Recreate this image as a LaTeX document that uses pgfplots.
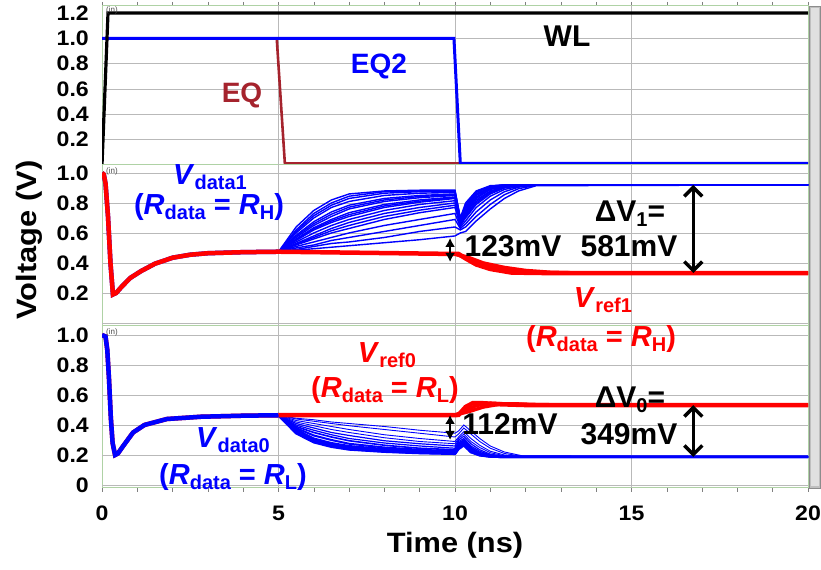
\documentclass[border=0pt]{standalone}
\usepackage{pgfplots}
\pgfplotsset{compat=1.18}
\usepackage{fontspec}
\setmainfont{Liberation Sans}
\newfontfamily\wide{Liberation Sans}[FakeStretch=1.1]
\usetikzlibrary{arrows.meta}
\definecolor{cblue}{RGB}{0,0,255}
\definecolor{cred}{RGB}{255,0,0}
\definecolor{ceq}{RGB}{165,35,45}
\definecolor{cframe}{RGB}{175,210,165}
\definecolor{cgrid}{RGB}{185,185,185}
\newcommand{\fs}[1]{\fontsize{#1bp}{#1bp}\selectfont}
\newcommand{\sub}[1]{\raisebox{-5bp}{\fs{20}#1}}
\tikzset{gsty/.style={draw=cgrid, line width=0.8bp}}
\newcommand{\vgrid}{\pgfplotsinvokeforeach{5,10,15}{\draw[gsty] (axis cs:##1,-0.1) -- (axis cs:##1,1.3);}}
\pgfplotsset{
 panel/.style={scale only axis, width=706bp, xmin=0, xmax=20, anchor=north west,
   axis line style={draw=cframe, line width=1bp},
   xtick={0,5,10,15,20}, minor xtick={1,2,3,4,6,7,8,9,11,12,13,14,16,17,18,19},
   tick align=outside, major tick length=4bp, minor tick length=4bp,
   xtick style={draw=gray, line width=0.6bp},
   ytick pos=right, yticklabel pos=left,
   yticklabel style={font=\wide\bfseries\fs{21}, inner sep=0pt, anchor=east, xshift=-9bp},
   xticklabel style={font=\wide\bfseries\fs{21}, inner sep=0pt, anchor=north, yshift=-14bp},
 },
 bund/.style={cblue, line width=1.4bp, no marks},
}
\begin{document}
\begin{tikzpicture}[x=1bp,y=1bp]
\useasboundingbox (0,0) rectangle (821,570);
% ---------- top panel ----------
\begin{axis}[panel, at={(102bp,564bp)}, height=159bp, ymin=0, ymax=1.256,
  ytick={0.2,0.4,0.6,0.8,1.0,1.2}, yticklabels={0.2,0.4,0.6,0.8,1.0,1.2},
  xtick pos=upper, xticklabels={}]
\pgfplotsinvokeforeach{0.2,0.4,0.6,0.8,1.0}{\draw[gsty] (axis cs:0,#1) -- (axis cs:20,#1);}
\vgrid
\addplot[ceq, line width=2.6bp, no marks] coordinates {(0,1.0)(4.95,1.0)(5.18,0.012)(10.15,0.012)(20,0.012)};
\addplot[cblue, line width=3bp, no marks] coordinates {(0,1.0)(9.97,1.0)(10.15,0.012)(20,0.012)};
\addplot[black, line width=3.2bp, no marks] coordinates {(0,0)(0.17,1.2)(20,1.2)};
\end{axis}
% ---------- middle panel ----------
\begin{axis}[panel, at={(102bp,405bp)}, height=161bp, ymin=-0.02, ymax=1.053,
  ytick={0.2,0.4,0.6,0.8,1.0}, yticklabels={0.2,0.4,0.6,0.8,1.0},
  xticklabels={}, xtick style={draw=none}]
\pgfplotsinvokeforeach{0,0.2,0.4,0.6,0.8,1.0}{\draw[gsty] (axis cs:0,#1) -- (axis cs:20,#1);}
\vgrid
\addplot[cblue, line width=4.5bp, no marks] coordinates {(0,1.0)(0.05,0.99)(0.1,0.93)(0.17,0.71)(0.24,0.4)(0.31,0.19)(0.4,0.2)(0.55,0.24)(0.8,0.3)(1.1,0.345)(1.5,0.395)(2.0,0.435)(2.5,0.455)(3.0,0.465)(4.0,0.472)(5.0,0.475)};
\addplot[bund] coordinates {(5,0.475)(5.5,0.64)(6,0.75)(6.5,0.82)(7,0.86)(8,0.88)(9,0.885)(10,0.885)(10.15,0.70)(10.3,0.80)(10.6,0.88)(11,0.915)(11.4,0.92)(11.8,0.92)(12.3,0.92)(20,0.92)};
\addplot[bund] coordinates {(5,0.475)(5.5,0.62)(6,0.73)(6.5,0.80)(7,0.845)(8,0.875)(9,0.88)(10,0.88)(10.15,0.695)(10.3,0.79)(10.6,0.875)(11,0.912)(11.4,0.92)(11.8,0.92)(12.3,0.92)(20,0.92)};
\addplot[bund] coordinates {(5,0.475)(5.5,0.61)(6,0.715)(6.5,0.785)(7,0.83)(8,0.865)(9,0.875)(10,0.875)(10.15,0.693)(10.3,0.785)(10.6,0.872)(11,0.911)(11.4,0.92)(11.8,0.92)(12.3,0.92)(20,0.92)};
\addplot[bund] coordinates {(5,0.475)(5.5,0.60)(6,0.70)(6.5,0.77)(7,0.81)(8,0.85)(9,0.865)(10,0.87)(10.15,0.69)(10.3,0.78)(10.6,0.87)(11,0.91)(11.4,0.92)(11.8,0.92)(12.3,0.92)(20,0.92)};
\addplot[bund] coordinates {(5,0.475)(5.5,0.585)(6,0.675)(6.5,0.74)(7,0.785)(8,0.83)(9,0.85)(10,0.86)(10.15,0.685)(10.3,0.77)(10.6,0.86)(11,0.905)(11.4,0.918)(11.8,0.92)(12.3,0.92)(20,0.92)};
\addplot[bund] coordinates {(5,0.475)(5.5,0.578)(6,0.662)(6.5,0.725)(7,0.772)(8,0.82)(9,0.843)(10,0.855)(10.15,0.683)(10.3,0.765)(10.6,0.855)(11,0.902)(11.4,0.916)(11.8,0.92)(12.3,0.92)(20,0.92)};
\addplot[bund] coordinates {(5,0.475)(5.5,0.57)(6,0.65)(6.5,0.71)(7,0.76)(8,0.81)(9,0.835)(10,0.85)(10.15,0.68)(10.3,0.76)(10.6,0.85)(11,0.90)(11.4,0.915)(11.8,0.92)(12.3,0.92)(20,0.92)};
\addplot[bund] coordinates {(5,0.475)(5.5,0.56)(6,0.635)(6.5,0.69)(7,0.735)(8,0.79)(9,0.82)(10,0.84)(10.15,0.675)(10.3,0.75)(10.6,0.84)(11,0.895)(11.4,0.913)(11.8,0.92)(12.3,0.92)(20,0.92)};
\addplot[bund] coordinates {(5,0.475)(5.5,0.555)(6,0.628)(6.5,0.68)(7,0.722)(8,0.78)(9,0.812)(10,0.835)(10.15,0.672)(10.3,0.745)(10.6,0.835)(11,0.892)(11.4,0.911)(11.8,0.92)(12.3,0.92)(20,0.92)};
\addplot[bund] coordinates {(5,0.475)(5.5,0.55)(6,0.62)(6.5,0.67)(7,0.71)(8,0.77)(9,0.805)(10,0.83)(10.15,0.67)(10.3,0.74)(10.6,0.83)(11,0.89)(11.4,0.91)(11.8,0.92)(12.3,0.92)(20,0.92)};
\addplot[bund] coordinates {(5,0.475)(5.5,0.54)(6,0.60)(6.5,0.65)(7,0.69)(8,0.75)(9,0.79)(10,0.815)(10.15,0.665)(10.3,0.73)(10.6,0.82)(11,0.88)(11.4,0.908)(11.8,0.918)(12.3,0.92)(20,0.92)};
\addplot[bund] coordinates {(5,0.475)(5.5,0.53)(6,0.58)(6.5,0.63)(7,0.67)(8,0.73)(9,0.77)(10,0.80)(10.15,0.66)(10.3,0.72)(10.6,0.81)(11,0.875)(11.4,0.905)(11.8,0.917)(12.3,0.92)(20,0.92)};
\addplot[bund] coordinates {(5,0.475)(5.5,0.525)(6,0.57)(6.5,0.615)(7,0.65)(8,0.71)(9,0.752)(10,0.785)(10.15,0.655)(10.3,0.71)(10.6,0.80)(11,0.868)(11.4,0.902)(11.8,0.916)(12.3,0.92)(20,0.92)};
\addplot[bund] coordinates {(5,0.475)(5.5,0.52)(6,0.56)(6.5,0.60)(7,0.63)(8,0.69)(9,0.735)(10,0.77)(10.15,0.65)(10.3,0.70)(10.6,0.79)(11,0.86)(11.4,0.90)(11.8,0.915)(12.3,0.92)(20,0.92)};
\addplot[bund] coordinates {(5,0.475)(5.5,0.51)(6,0.54)(6.5,0.57)(7,0.60)(8,0.65)(9,0.69)(10,0.73)(10.15,0.64)(10.3,0.68)(10.6,0.77)(11,0.845)(11.4,0.89)(11.8,0.91)(12.3,0.92)(20,0.92)};
\addplot[bund] coordinates {(5,0.475)(5.5,0.50)(6,0.52)(6.5,0.55)(7,0.57)(8,0.61)(9,0.65)(10,0.69)(10.15,0.63)(10.3,0.66)(10.6,0.74)(11,0.82)(11.4,0.875)(11.8,0.905)(12.3,0.92)(20,0.92)};
\addplot[bund] coordinates {(5,0.475)(5.5,0.49)(6,0.51)(6.5,0.53)(7,0.54)(8,0.57)(9,0.61)(10,0.64)(10.15,0.62)(10.3,0.64)(10.6,0.71)(11,0.79)(11.4,0.855)(11.8,0.895)(12.3,0.918)(20,0.92)};
\addplot[bund] coordinates {(5,0.475)(5.5,0.485)(6,0.495)(6.5,0.505)(7,0.515)(8,0.535)(9,0.555)(10,0.58)(10.15,0.60)(10.3,0.61)(10.6,0.68)(11,0.76)(11.4,0.83)(11.8,0.88)(12.3,0.915)(20,0.92)};
\addplot[cred, line width=3.5bp, no marks] coordinates {(10,0.46)(10.35,0.44)(10.8,0.40)(11.4,0.37)(12,0.35)(12.7,0.338)(13.5,0.333)(20,0.333)};
\addplot[cred, line width=3.5bp, no marks] coordinates {(10,0.46)(10.3,0.435)(10.7,0.395)(11.2,0.365)(11.8,0.343)(12.6,0.335)(20,0.333)};
\addplot[cred, line width=4.5bp, no marks] coordinates {(0,1.0)(0.05,0.99)(0.1,0.93)(0.17,0.71)(0.24,0.4)(0.31,0.19)(0.4,0.2)(0.55,0.24)(0.8,0.3)(1.1,0.345)(1.5,0.395)(2.0,0.435)(2.5,0.455)(3.0,0.465)(4.0,0.472)(5.0,0.475)(6,0.472)(7,0.469)(8,0.466)(9,0.463)(10,0.46)(10.1,0.46)(10.3,0.43)(10.6,0.39)(11,0.36)(11.6,0.336)(12.5,0.333)(20,0.333)};
\draw[line width=2bp, {Latex[length=9bp,width=10bp]}-{Latex[length=9bp,width=10bp]}] (axis cs:9.86,0.567) -- (axis cs:9.86,0.407);
\draw[line width=3.5bp, {Straight Barb[length=9bp,width=18bp]}-{Straight Barb[length=9bp,width=18bp]}] (axis cs:16.75,0.92) -- (axis cs:16.75,0.333);
\end{axis}
% ---------- bottom panel ----------
\begin{axis}[panel, at={(102bp,244bp)}, height=162bp, ymin=-0.02, ymax=1.06,
  ytick={0,0.2,0.4,0.6,0.8,1.0}, yticklabels={0,0.2,0.4,0.6,0.8,1.0},
  xtick pos=lower, xticklabels={0,5,10,15,20}]
\pgfplotsinvokeforeach{0,0.2,0.4,0.6,0.8,1.0}{\draw[gsty] (axis cs:0,#1) -- (axis cs:20,#1);}
\vgrid
\addplot[cred, line width=4.5bp, no marks] coordinates {(0,1.0)(0.1,0.99)(0.15,0.9)(0.2,0.7)(0.25,0.45)(0.3,0.28)(0.37,0.2)(0.45,0.21)(0.6,0.26)(0.88,0.35)(1.2,0.4)(1.84,0.44)(2.8,0.455)(4,0.462)(5,0.465)};
\addplot[cblue, line width=4.5bp, no marks] coordinates {(0,1.0)(0.1,0.99)(0.15,0.9)(0.2,0.7)(0.25,0.45)(0.3,0.28)(0.37,0.2)(0.45,0.21)(0.6,0.26)(0.88,0.35)(1.2,0.4)(1.84,0.44)(2.8,0.455)(4,0.462)(5,0.465)};
\addplot[bund, line width=2.5bp] coordinates {(5,0.465)(5.5,0.345)(6,0.285)(6.5,0.255)(7,0.237)(8,0.222)(9,0.213)(10,0.208)(10.1,0.24)(10.25,0.265)(10.45,0.22)(10.7,0.198)(11,0.19)(11.4,0.187)(11.9,0.187)(20,0.187)};
\addplot[bund, line width=2.5bp] coordinates {(5,0.465)(5.5,0.35)(6,0.29)(6.5,0.26)(7,0.24)(8,0.225)(9,0.215)(10,0.21)(10.1,0.25)(10.25,0.27)(10.45,0.22)(10.7,0.2)(11,0.19)(11.4,0.187)(11.9,0.187)(20,0.187)};
\addplot[bund, line width=2.5bp] coordinates {(5,0.465)(5.5,0.36)(6,0.30)(6.5,0.27)(7,0.25)(8,0.232)(9,0.22)(10,0.212)(10.1,0.255)(10.25,0.275)(10.45,0.225)(10.7,0.202)(11,0.191)(11.4,0.187)(11.9,0.187)(20,0.187)};
\addplot[bund, line width=2bp] coordinates {(5,0.465)(5.5,0.37)(6,0.31)(6.5,0.28)(7,0.26)(8,0.24)(9,0.225)(10,0.215)(10.1,0.26)(10.25,0.28)(10.45,0.23)(10.7,0.205)(11,0.192)(11.4,0.188)(11.9,0.187)(20,0.187)};
\addplot[bund, line width=2bp] coordinates {(5,0.465)(5.5,0.38)(6,0.33)(6.5,0.30)(7,0.275)(8,0.25)(9,0.235)(10,0.225)(10.1,0.27)(10.25,0.29)(10.45,0.24)(10.7,0.21)(11,0.195)(11.4,0.188)(11.9,0.187)(20,0.187)};
\addplot[bund, line width=1.6bp] coordinates {(5,0.465)(5.5,0.39)(6,0.35)(6.5,0.32)(7,0.295)(8,0.265)(9,0.245)(10,0.235)(10.1,0.28)(10.25,0.30)(10.45,0.25)(10.7,0.215)(11,0.198)(11.4,0.19)(11.9,0.187)(20,0.187)};
\addplot[bund, line width=1.2bp] coordinates {(5,0.465)(5.5,0.40)(6,0.365)(6.5,0.335)(7,0.31)(8,0.28)(9,0.26)(10,0.245)(10.1,0.29)(10.25,0.31)(10.45,0.26)(10.7,0.225)(11,0.20)(11.4,0.19)(11.9,0.187)(20,0.187)};
\addplot[bund, line width=1.2bp] coordinates {(5,0.465)(5.5,0.41)(6,0.38)(6.5,0.35)(7,0.33)(8,0.295)(9,0.275)(10,0.26)(10.1,0.30)(10.25,0.325)(10.45,0.275)(10.7,0.235)(11,0.205)(11.4,0.192)(11.9,0.188)(20,0.187)};
\addplot[bund, line width=0.9bp] coordinates {(5,0.465)(5.5,0.42)(6,0.395)(6.5,0.37)(7,0.35)(8,0.315)(9,0.29)(10,0.275)(10.1,0.31)(10.25,0.34)(10.45,0.29)(10.7,0.25)(11,0.215)(11.4,0.195)(11.9,0.188)(20,0.187)};
\addplot[bund, line width=0.9bp] coordinates {(5,0.465)(5.5,0.43)(6,0.41)(6.5,0.39)(7,0.37)(8,0.335)(9,0.31)(10,0.29)(10.1,0.32)(10.25,0.355)(10.45,0.31)(10.7,0.265)(11,0.225)(11.4,0.20)(11.9,0.19)(20,0.187)};
\addplot[bund, line width=0.9bp] coordinates {(5,0.465)(5.5,0.44)(6,0.425)(6.5,0.41)(7,0.395)(8,0.37)(9,0.345)(10,0.32)(10.1,0.34)(10.25,0.38)(10.45,0.34)(10.7,0.29)(11,0.245)(11.4,0.21)(11.9,0.192)(20,0.187)};
\addplot[bund, line width=0.9bp] coordinates {(5,0.465)(5.5,0.445)(6,0.435)(6.5,0.42)(7,0.41)(8,0.39)(9,0.365)(10,0.345)(10.1,0.36)(10.25,0.40)(10.45,0.36)(10.7,0.31)(11,0.26)(11.4,0.22)(11.9,0.195)(20,0.187)};
\addplot[cred, line width=3.5bp, no marks] coordinates {(10,0.466)(10.35,0.50)(10.6,0.53)(11,0.545)(11.5,0.54)(12.2,0.534)(20,0.533)};
\addplot[cred, line width=3.5bp, no marks] coordinates {(10,0.466)(10.4,0.49)(10.8,0.52)(11.3,0.54)(11.8,0.54)(12.5,0.535)(20,0.533)};
\addplot[cred, line width=4.5bp, no marks] coordinates {(5,0.465)(6,0.466)(8,0.466)(10,0.466)(10.1,0.467)(10.3,0.52)(10.5,0.545)(10.8,0.545)(11.3,0.538)(12,0.533)(20,0.533)};
\draw[line width=2bp, {Latex[length=9bp,width=10bp]}-{Latex[length=9bp,width=10bp]}] (axis cs:9.86,0.467) -- (axis cs:9.86,0.30);
\draw[line width=3.5bp, {Straight Barb[length=9bp,width=18bp]}-{Straight Barb[length=9bp,width=18bp]}] (axis cs:16.75,0.533) -- (axis cs:16.75,0.187);
\end{axis}
% ---------- scrollbar ----------
\fill[white] (808.6,80) rectangle (821,566);
\fill[black!25] (809,82) rectangle (820,564);
\fill[black!12] (810.5,84) rectangle (818.5,562);
\draw[black!45, line width=0.6bp] (809,82) rectangle (820,564);
% ---------- (in) marks ----------
\node[font=\fs{8}, text=black!70, anchor=north west, inner sep=0pt] at (106,563) {(in)};
\node[font=\fs{8}, text=black!70, anchor=north west, inner sep=0pt] at (106,402) {(in)};
\node[font=\fs{8}, text=black!70, anchor=north west, inner sep=0pt] at (106,241) {(in)};
% ---------- annotations ----------
\begin{scope}[every node/.style={anchor=base, inner sep=0pt, font=\bfseries\fs{29}}]
\node[font=\bfseries\fs{30}] at (567,523) {WL};
\node[text=ceq, font=\bfseries\fs{28}] at (242,467) {EQ};
\node[text=cblue, font=\bfseries\fs{28}] at (379,496) {EQ2};
\node[text=cblue] at (210,385) {\textit{V}\sub{data1}};
\node[text=cblue] at (209,355) {(\textit{R}\sub{data} = \textit{R}\sub{H})};
\node[font=\bfseries\fs{30}] at (513,313) {123mV};
\node[font=\bfseries\fs{30}] at (630,348) {ΔV\sub{1}=};
\node[font=\bfseries\fs{30}] at (629,313) {581mV};
\node[text=cred] at (603,262) {\textit{V}\sub{ref1}};
\node[text=cred] at (601,223) {(\textit{R}\sub{data} = \textit{R}\sub{H})};
\node[text=cred] at (387,207) {\textit{V}\sub{ref0}};
\node[text=cred] at (385,172) {(\textit{R}\sub{data} = \textit{R}\sub{L})};
\node[font=\bfseries\fs{30}] at (510,135) {112mV};
\node[font=\bfseries\fs{30}] at (630,162) {ΔV\sub{0}=};
\node[font=\bfseries\fs{30}] at (629,125) {349mV};
\node[text=cblue] at (233,122) {\textit{V}\sub{data0}};
\node[text=cblue] at (233,85) {(\textit{R}\sub{data} = \textit{R}\sub{L})};
\node[font=\wide\bfseries\fs{28}] at (455,17) {Time (ns)};
\end{scope}
\node[font=\wide\bfseries\fs{28}, rotate=90, inner sep=0pt] at (29,330) {Voltage (V)};
\end{tikzpicture}
\end{document}
